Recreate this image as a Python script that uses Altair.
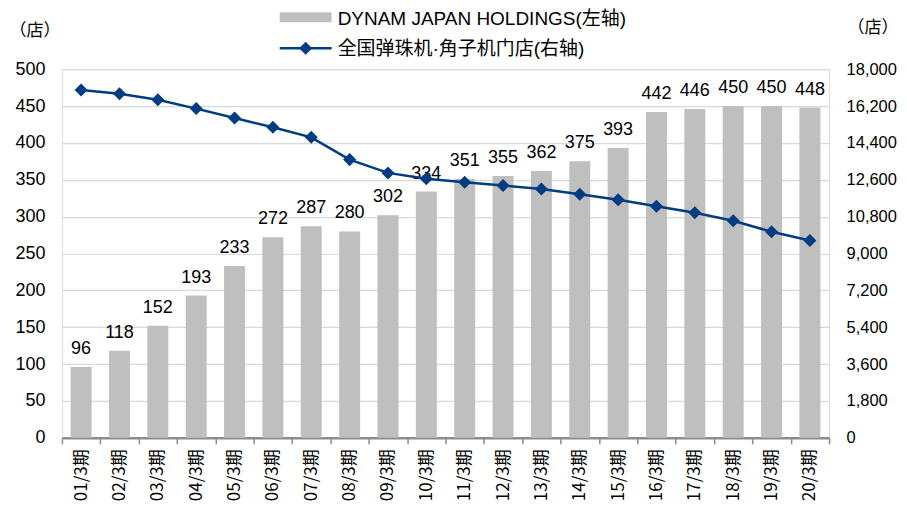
import altair as alt
import pandas as pd

periods = ["01/3期", "02/3期", "03/3期", "04/3期", "05/3期", "06/3期", "07/3期", "08/3期",
           "09/3期", "10/3期", "11/3期", "12/3期", "13/3期", "14/3期", "15/3期", "16/3期",
           "17/3期", "18/3期", "19/3期", "20/3期"]
dynam = [96, 118, 152, 193, 233, 272, 287, 280, 302, 334, 351, 355, 362, 375, 393, 442,
         446, 450, 450, 448]
national = [16988, 16801, 16504, 16076, 15617, 15165, 14674, 13585, 12937, 12652, 12479,
            12323, 12149, 11893, 11627, 11310, 10986, 10596, 10060, 9639]

left_ticks = list(range(0, 501, 50))
right_ticks = list(range(0, 18001, 1800))

legend_bar = "DYNAM JAPAN HOLDINGS(左轴)"
legend_line = "全国弹珠机·角子机门店(右轴)"
unit = "（店）"

FONT = "Liberation Sans, Noto Sans CJK JP, sans-serif"
CJK = "Noto Sans CJK JP"
BAR_C = "#bfbfbf"
LINE_C = "#003c82"

df = pd.DataFrame({"period": periods, "dynam": dynam, "national": national})
dummy = pd.DataFrame({"k": [0]})

W, H = 768, 369

xenc = alt.X("period:N", sort=periods, title=None,
             scale=alt.Scale(paddingInner=0, paddingOuter=0),
             axis=alt.Axis(labelAngle=-90, labelFontSize=17, labelColor="#000000",
                           labelFont=CJK, labelPadding=5, labelOverlap=False,
                           domainColor="#8c8c8c", domainWidth=2.5,
                           tickColor="#8c8c8c", tickWidth=1.5, tickSize=6,
                           tickBand="extent", grid=False))

yleft = alt.Y("dynam:Q", scale=alt.Scale(domain=[0, 500], nice=False),
              axis=alt.Axis(values=left_ticks, title=unit, titleAngle=0,
                            titleX=-53, titleY=-39, titleAlign="left",
                            titleBaseline="middle", titleFontSize=17,
                            titleFontWeight="normal", titleFont=CJK, titleColor="#000000",
                            labelFontSize=18, labelFont=FONT, labelColor="#000000",
                            labelPadding=17, labelOverlap=False, domain=False, ticks=False,
                            grid=True, gridColor="#d9d9d9", gridWidth=1.2))

yright = alt.Y("national:Q", scale=alt.Scale(domain=[0, 18000], nice=False),
               axis=alt.Axis(values=right_ticks, format=",d", orient="right",
                             title=unit, titleAngle=0, titleX=69, titleY=-42,
                             titleAlign="right", titleBaseline="middle",
                             titleFontSize=17, titleFontWeight="normal", titleFont=CJK,
                             titleColor="#000000",
                             labelFontSize=16.5, labelFont=FONT, labelColor="#000000",
                             labelPadding=17, labelOverlap=False, domain=False, ticks=False,
                             grid=False))

bars = alt.Chart(df).mark_bar(color=BAR_C, size=21).encode(x=xenc, y=yleft)

bar_labels = alt.Chart(df).mark_text(fontSize=18, font=FONT, color="#000000",
                                     baseline="alphabetic", dy=-13).encode(
    x=xenc, y=yleft, text=alt.Text("dynam:Q"),
)

left = alt.layer(bars, bar_labels)

line = alt.Chart(df).mark_line(color=LINE_C, strokeWidth=2.5).encode(x=xenc, y=yright)
pts = alt.Chart(df).mark_point(shape="diamond", filled=True, color=LINE_C,
                               size=170, opacity=1).encode(x=xenc, y=yright)
right = alt.layer(line, pts)

# manual legend
lg_rect = alt.Chart(dummy).mark_rect(color=BAR_C).encode(
    x=alt.value(218), x2=alt.value(270), y=alt.value(-57), y2=alt.value(-47))
lg_t1 = alt.Chart(dummy).mark_text(align="left", baseline="middle", fontSize=19,
                                   font=FONT, color="#000000").encode(
    x=alt.value(276), y=alt.value(-50), text=alt.value(legend_bar))
lg_rule = alt.Chart(dummy).mark_rule(color=LINE_C, strokeWidth=2.5).encode(
    x=alt.value(218), x2=alt.value(270), y=alt.value(-21))
lg_pt = alt.Chart(dummy).mark_point(shape="diamond", filled=True, color=LINE_C,
                                    size=170, opacity=1).encode(
    x=alt.value(244), y=alt.value(-21))
lg_t2 = alt.Chart(dummy).mark_text(align="left", baseline="middle", fontSize=19,
                                   font=FONT, color="#000000").encode(
    x=alt.value(276), y=alt.value(-20), text=alt.value(legend_line))

chart = alt.layer(left, right, lg_rect, lg_t1, lg_rule, lg_pt, lg_t2).resolve_scale(
    y="independent"
).properties(
    width=W, height=H,
    autosize=alt.AutoSizeParams(type="none"),
    padding={"left": 54, "top": 61, "right": 70, "bottom": 70},
).configure_view(stroke=None).configure(font=FONT)

chart.save("out.html", embed_options={"renderer": "svg", "actions": False})
